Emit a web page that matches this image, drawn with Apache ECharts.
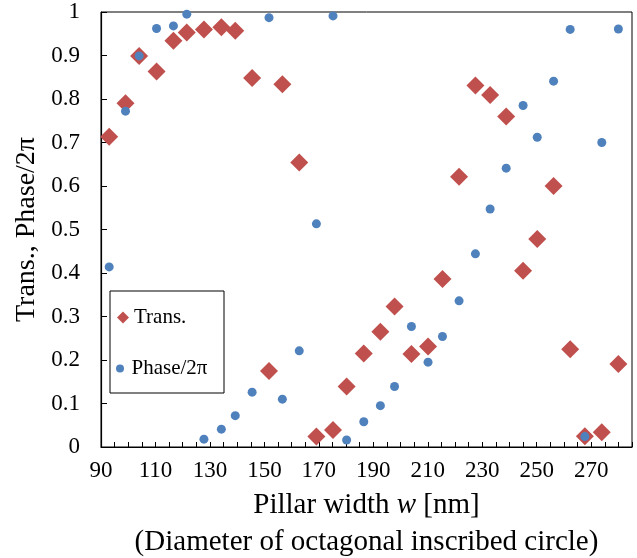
<!DOCTYPE html>
<html>
<head>
<meta charset="utf-8">
<script src="https://cdn.jsdelivr.net/npm/echarts@6/dist/echarts.min.js"></script>
<style>
html,body{margin:0;padding:0;background:#fff;}
#chart{width:637px;height:558px;}
</style>
</head>
<body>
<div id="chart"></div>
<script>
// Pillar width w [nm]
const widths = [93, 99, 104, 110.4, 116.6, 121.5, 127.8, 134.2, 139.3, 145.5, 151.7, 156.6, 162.8, 169.1, 175.2, 180.2, 186.5, 192.6, 197.8, 204.0, 210.1, 215.4, 221.5, 227.5, 232.9, 238.8, 245.0, 250.2, 256.2, 262.3, 267.7, 273.9, 280.0];
// Transmission
const trans = [0.713, 0.790, 0.899, 0.863, 0.934, 0.953, 0.960, 0.965, 0.957, 0.848, 0.175, 0.834, 0.654, 0.024, 0.039, 0.139, 0.215, 0.265, 0.323, 0.214, 0.231, 0.386, 0.621, 0.831, 0.809, 0.760, 0.405, 0.478, 0.600, 0.225, 0.025, 0.034, 0.191];
// Phase / 2pi
const phase = [0.414, 0.772, 0.899, 0.962, 0.968, 0.995, 0.018, 0.041, 0.072, 0.126, 0.987, 0.110, 0.221, 0.513, 0.991, 0.016, 0.058, 0.095, 0.139, 0.277, 0.195, 0.254, 0.336, 0.444, 0.547, 0.641, 0.785, 0.712, 0.841, 0.960, 0.024, 0.700, 0.961];
const xTickLabels = [90, 110, 130, 150, 170, 190, 210, 230, 250, 270];
const seriesNames = ['Trans.', 'Phase/2\u03c0'];

const FONT = "'Liberation Serif', 'Times New Roman', serif";
const chart = echarts.init(document.getElementById('chart'), null, {renderer: 'canvas'});

chart.setOption({
  backgroundColor: '#fff',
  animation: false,
  grid: {left: 101, right: 5, top: 12, bottom: 111, show: true, borderColor: '#000', borderWidth: 1,
         containLabel: false, outerBoundsMode: 'none'},
  graphic: [{
    type: 'rect', left: 109.5, top: 290.5, z: 5,
    shape: {width: 114, height: 102},
    style: {fill: '#fff', stroke: '#000', lineWidth: 1}
  }],
  legend: [
    {data: [seriesNames[0]], left: 117, top: 307, padding: 0, itemWidth: 12, itemHeight: 12, z: 10,
     textStyle: {fontFamily: FONT, fontSize: 21, color: '#000'}},
    {data: [seriesNames[1]], left: 116, top: 358, padding: 0, itemWidth: 13, itemHeight: 8, z: 10,
     textStyle: {fontFamily: FONT, fontSize: 21, color: '#000'}}
  ],
  xAxis: {
    type: 'value', min: 90, max: 285, interval: 5,
    axisLine: {show: true, lineStyle: {color: '#000', width: 1.2}},
    axisTick: {show: true, inside: true, length: 5, lineStyle: {color: '#000', width: 1}},
    splitLine: {show: false},
    axisLabel: {
      interval: 0, margin: 12, hideOverlap: false, color: '#000', fontFamily: FONT, fontSize: 23,
      showMaxLabel: true, showMinLabel: true,
      formatter: function (v) { return xTickLabels.indexOf(Math.round(v)) >= 0 ? String(Math.round(v)) : ''; }
    },
    name: 'Pillar width {i|w} [nm]\n(Diameter of octagonal inscribed circle)',
    nameLocation: 'middle', nameGap: 40,
    nameTextStyle: {
      color: '#000', fontFamily: FONT, fontSize: 29, lineHeight: 37,
      rich: {i: {fontStyle: 'italic', fontFamily: FONT, fontSize: 29, lineHeight: 37, color: '#000'}}
    }
  },
  yAxis: {
    type: 'value', min: 0, max: 1, interval: 0.1,
    axisLine: {show: true, lineStyle: {color: '#000', width: 1.2}},
    axisTick: {show: true, inside: true, length: 6, lineStyle: {color: '#000', width: 1}},
    splitLine: {show: false},
    axisLabel: {margin: 21, color: '#000', fontFamily: FONT, fontSize: 23,
      formatter: function (v) { return String(Math.round(v * 10) / 10); }},
    name: 'Trans., Phase/2\u03c0',
    nameLocation: 'middle', nameGap: 58,
    nameTextStyle: {color: '#000', fontFamily: FONT, fontSize: 28}
  },
  series: [
    {
      name: seriesNames[0], type: 'scatter', symbol: 'diamond', symbolSize: 18,
      itemStyle: {color: '#C0504D', opacity: 1},
      data: widths.map((w, i) => [w, trans[i]])
    },
    {
      name: seriesNames[1], type: 'scatter', symbol: 'circle', symbolSize: 9,
      itemStyle: {color: '#4F81BD', opacity: 1},
      data: widths.map((w, i) => [w, phase[i]])
    }
  ]
});
</script>
</body>
</html>
